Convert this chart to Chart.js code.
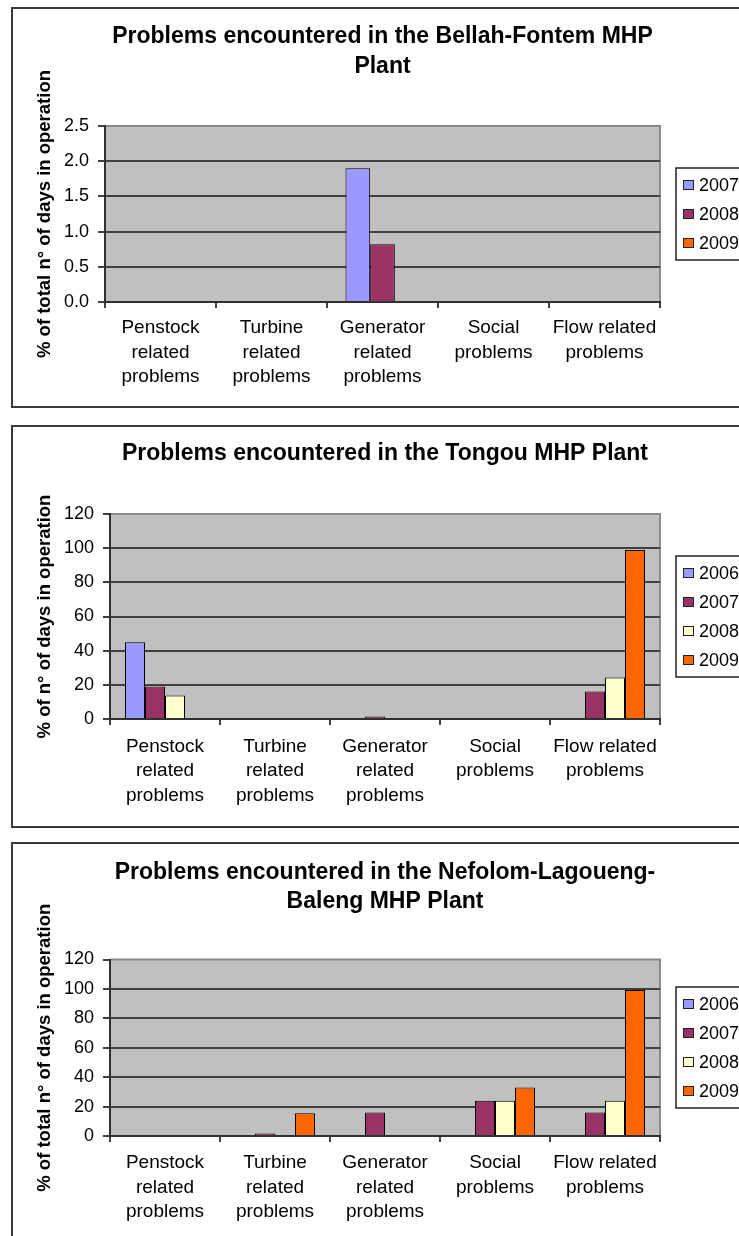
<!DOCTYPE html>
<html>
<head>
<meta charset="utf-8">
<script src="https://cdn.jsdelivr.net/npm/chart.js@4.4.0/dist/chart.umd.min.js"></script>
<style>
  html, body { margin: 0; padding: 0; background: #fff; }
  body { width: 739px; height: 1236px; position: relative; overflow: hidden; }
  .box { position: absolute; left: 11px; width: 900px; border: 2px solid #3a3a3a; box-sizing: border-box; }
  canvas { position: absolute; left: 0; }
</style>
</head>
<body>
<div class="box" style="top:7px;height:401px"></div>
<div class="box" style="top:425px;height:403px"></div>
<div class="box" style="top:842px;height:500px"></div>
<canvas id="bellah" width="739" height="415" style="top:0"></canvas>
<canvas id="tongou" width="739" height="415" style="top:415px"></canvas>
<canvas id="nefolom" width="739" height="406" style="top:830px"></canvas>
<script>
const categories = [
  ['Penstock', 'related', 'problems'],
  ['Turbine', 'related', 'problems'],
  ['Generator', 'related', 'problems'],
  ['Social', 'problems'],
  ['Flow related', 'problems']
];

const colors = { '2006': '#9999FF', '2007': '#993366', '2008': '#FFFFCC', '2009': '#FF6600' };
const bellahColors = { '2007': '#9999FF', '2008': '#993366', '2009': '#FF6600' };

// Bellah-Fontem
const bellahYears = ['2007', '2008', '2009'];
const bellah2007 = [null, null, 1.9, null, null];
const bellah2008 = [null, null, 0.82, null, null];
const bellah2009 = [null, null, null, null, null];

// Tongou
const tongouYears = ['2006', '2007', '2008', '2009'];
const tongou2006 = [45, null, null, null, null];
const tongou2007 = [19, null, 1.4, null, 16.1];
const tongou2008 = [13.7, null, null, null, 24.3];
const tongou2009 = [null, null, null, null, 99];

// Nefolom-Lagoueng-Baleng
const nefolomYears = ['2006', '2007', '2008', '2009'];
const nefolom2006 = [null, null, null, null, null];
const nefolom2007 = [null, 1.7, 16, 24, 16];
const nefolom2008 = [null, null, null, 24, 24];
const nefolom2009 = [null, 15.4, null, 33, 99.3];

Chart.defaults.font.family = '"Liberation Sans", Arial, sans-serif';
Chart.defaults.color = '#000';

const plotFrame = {
  id: 'plotFrame',
  beforeDraw(chart) {
    const { ctx, chartArea: a } = chart;
    ctx.save();
    ctx.fillStyle = '#c0c0c0';
    ctx.fillRect(a.left, a.top, a.right - a.left, a.bottom - a.top);
    ctx.strokeStyle = '#8a8a8a';
    ctx.lineWidth = 2;
    ctx.beginPath();
    ctx.moveTo(a.left, a.top);
    ctx.lineTo(a.right, a.top);
    ctx.lineTo(a.right, a.bottom);
    ctx.stroke();
    ctx.restore();
  }
};

// legend in a framed box to the right, centred on the plot
const boxLegend = {
  id: 'boxLegend',
  afterDraw(chart) {
    const { ctx, chartArea: a } = chart;
    const sets = chart.data.datasets;
    const step = 29, pad = 17;
    const h = pad * 2 + step * (sets.length - 1);
    const top = Math.round((a.top + a.bottom) / 2 - h / 2);
    ctx.save();
    ctx.strokeStyle = '#222';
    ctx.lineWidth = 1.5;
    ctx.strokeRect(676, top, 140, h);
    ctx.font = '18px "Liberation Sans", Arial, sans-serif';
    ctx.textBaseline = 'middle';
    sets.forEach((ds, i) => {
      const y = top + pad + i * step;
      ctx.fillStyle = ds.backgroundColor;
      ctx.fillRect(683, y - 5, 11, 10);
      ctx.strokeStyle = '#222';
      ctx.lineWidth = 1;
      ctx.strokeRect(683.5, y - 4.5, 10, 9);
      ctx.fillStyle = '#000';
      ctx.fillText(ds.label, 699, y + 1);
    });
    ctx.restore();
  }
};

function makeChart(id, cfg) {
  const ctx = document.getElementById(id).getContext('2d');
  return new Chart(ctx, {
    type: 'bar',
    data: {
      labels: categories,
      datasets: cfg.years.map((yr, i) => ({
        label: yr,
        data: cfg.series[i],
        backgroundColor: cfg.colors[yr],
        borderColor: '#000',
        borderWidth: 1,
        categoryPercentage: cfg.catPct,
        barPercentage: 1
      }))
    },
    options: {
      responsive: false,
      maintainAspectRatio: false,
      animation: false,
      devicePixelRatio: 1,
      layout: { padding: { left: 0, right: 79, top: 0, bottom: 0 } },
      plugins: {
        legend: { display: false },
        tooltip: { enabled: false },
        title: {
          display: true,
          text: cfg.title,
          fullSize: false,
          color: '#000',
          font: { size: 23, weight: 'bold', lineHeight: cfg.titleLh + 'px' },
          padding: cfg.titlePad
        }
      },
      scales: {
        x: {
          grid: { drawOnChartArea: false, drawTicks: true, tickLength: 6, color: '#404040', lineWidth: 2, offset: true },
          border: { color: '#303030', width: 2 },
          ticks: { font: { size: 19, lineHeight: '24.5px' }, color: '#000', padding: cfg.xPad, maxRotation: 0, autoSkip: false },
          afterFit: s => { s.height = cfg.xHeight; }
        },
        y: {
          min: 0,
          max: cfg.max,
          ticks: {
            stepSize: cfg.step,
            font: { size: 18 },
            color: '#000',
            padding: 9,
            callback: v => cfg.decimals ? v.toFixed(cfg.decimals) : v
          },
          grid: {
            color: c => (c.tick && c.tick.value === cfg.max) ? 'rgba(0,0,0,0)' : '#404040',
            tickColor: '#404040',
            lineWidth: 2,
            tickLength: 7
          },
          border: { color: '#303030', width: 2 },
          title: {
            display: true,
            text: cfg.yTitle,
            color: '#000',
            font: { size: 18.5, weight: 'bold' },
            padding: { top: 34, bottom: 0 }
          },
          afterFit: s => { s.width = cfg.yWidth; }
        }
      }
    },
    plugins: [plotFrame, boxLegend]
  });
}

window.onload = () => {
  makeChart('bellah', {
    title: ['Problems encountered in the Bellah-Fontem MHP', 'Plant'],
    titleLh: 29.5,
    titlePad: { top: 22, bottom: 45 },
    yTitle: '% of total n\u00b0 of days in operation',
    years: bellahYears,
    colors: bellahColors,
    series: [bellah2007, bellah2008, bellah2009],
    catPct: 0.667,
    max: 2.5, step: 0.5, decimals: 1,
    yWidth: 105, xHeight: 113, xPad: 8
  });
  makeChart('tongou', {
    title: 'Problems encountered in the Tongou MHP Plant',
    titleLh: 30,
    titlePad: { top: 24, bottom: 45 },
    yTitle: '% of n\u00b0 of days in operation',
    years: tongouYears,
    colors: colors,
    series: [tongou2006, tongou2007, tongou2008, tongou2009],
    catPct: 0.727,
    max: 120, step: 20, decimals: 0,
    yWidth: 110, xHeight: 111, xPad: 9.5
  });
  makeChart('nefolom', {
    title: ['Problems encountered in the Nefolom-Lagoueng-', 'Baleng MHP Plant'],
    titleLh: 28.5,
    titlePad: { top: 28.5, bottom: 44 },
    yTitle: '% of total n\u00b0 of days in operation',
    years: nefolomYears,
    colors: colors,
    series: [nefolom2006, nefolom2007, nefolom2008, nefolom2009],
    catPct: 0.727,
    max: 120, step: 20, decimals: 0,
    yWidth: 110, xHeight: 100, xPad: 9
  });
};
</script>
</body>
</html>
